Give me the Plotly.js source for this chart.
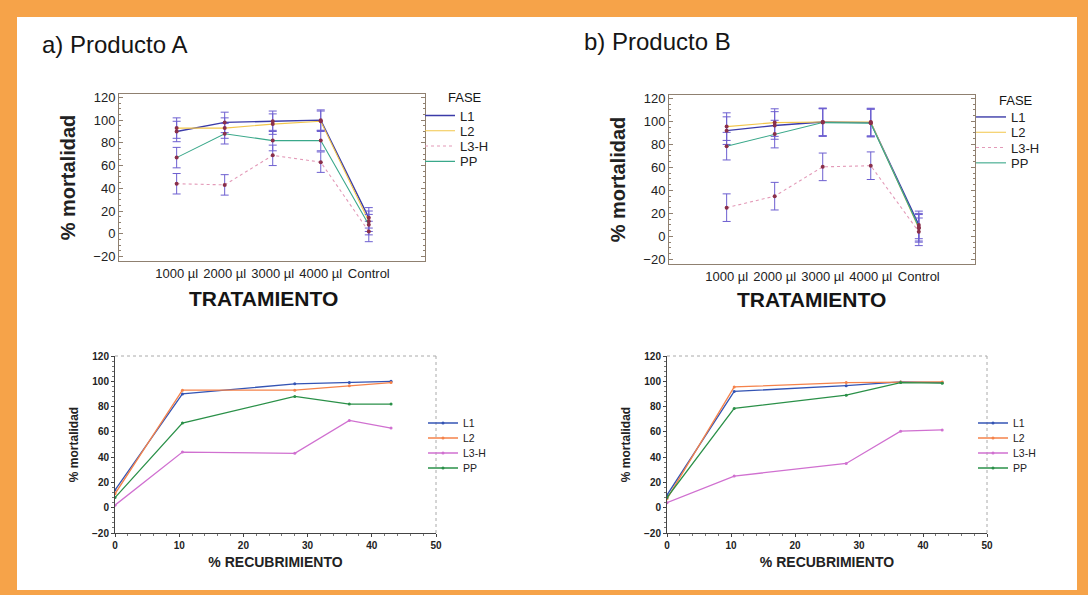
<!DOCTYPE html>
<html>
<head>
<meta charset="utf-8">
<script src="https://cdn.plot.ly/plotly-3.0.1.min.js"></script>
<style>
  html, body { margin:0; padding:0; }
  body { width:1088px; height:595px; background:#f6a349; position:relative; overflow:hidden; }
  #paper { position:absolute; left:17px; top:17px; width:1060px; height:573px; background:#ffffff; }
  #chart { position:absolute; left:0; top:0; width:1088px; height:595px; }
</style>
</head>
<body>
<div id="paper"></div>
<div id="chart"></div>
<script>
// ---------- data ----------
const treatments = ['1000 µl', '2000 µl', '3000 µl', '4000 µl', 'Control'];
const coverage   = [10.5, 28, 36.5, 43, 0];          // % recubrimiento per treatment
const phases     = ['L1', 'L2', 'L3-H', 'PP'];

// Producto A: % mortalidad per treatment
const prodA_L1  = [90, 98, 99, 100, 14];
const prodA_L2  = [93, 93, 96.5, 99, 11];
const prodA_L3H = [44, 43, 69, 63, 2];
const prodA_PP  = [67, 88, 82, 82, 8];
const prodA_err = 9;     // half-width of the interval bars

// Producto B: % mortalidad per treatment
const prodB_L1  = [92, 96.5, 99.5, 99, 10];
const prodB_L2  = [95.5, 99, 99.5, 99.5, 7];
const prodB_L3H = [25, 35, 60.5, 61.5, 4];
const prodB_PP  = [78.5, 89, 99, 98.5, 8];
const prodB_err = 12;

// ---------- styles ----------
const FONT = 'Arial, "Liberation Sans", sans-serif';
const topColors = ['#3b3ba8', '#f2c64a', '#e39ab8', '#3aa88a'];
const topDash   = ['solid', 'solid', 'dot', 'solid'];
const botColors = ['#3454b4', '#f5824a', '#d070d0', '#2a9048'];
const errColor  = '#6d5fd0';

const seriesA = [prodA_L1, prodA_L2, prodA_L3H, prodA_PP];
const seriesB = [prodB_L1, prodB_L2, prodB_L3H, prodB_PP];

const W = 1088, H = 595;
const px = v => v / W;
const py = v => 1 - v / H;

let legendCount = 0;
const layoutLegends = {};
function newLegend(textLeft, centerY, fontSize) {
  legendCount += 1;
  const name = legendCount === 1 ? 'legend' : 'legend' + legendCount;
  layoutLegends[name] = {
    visible: true,
    x: px(textLeft - 40), y: py(centerY), xanchor: 'left', yanchor: 'middle',
    bgcolor: 'rgba(0,0,0,0)', borderwidth: 0,
    font: {family: FONT, size: fontSize, color: '#222'},
    itemclick: false, itemdoubleclick: false
  };
  return name;
}

const traces = [];
function topPanel(series, err, xa, ya, legTextLeft, legY0) {
  series.forEach((vals, i) => {
    traces.push({
      type: 'scatter', mode: 'lines',
      x: treatments, y: vals, xaxis: xa, yaxis: ya,
      name: phases[i], showlegend: true,
      line: {color: topColors[i], width: i === 0 ? 1.4 : 1.1, dash: topDash[i]},
      error_y: {type: 'constant', value: err, color: errColor, thickness: 1, width: 4},
      legend: newLegend(legTextLeft, legY0 + i * 15.3, 13)
    });
  });
  series.forEach((vals, i) => {
    traces.push({
      type: 'scatter', mode: 'markers',
      x: treatments, y: vals, xaxis: xa, yaxis: ya,
      name: phases[i], showlegend: false,
      marker: {color: '#8a2f4a', size: 4}
    });
  });
}
function bottomPanel(series, xa, ya, legTextLeft, legY0) {
  // order points by coverage (control = 0 first)
  const order = coverage.map((c, k) => k).sort((a, b) => coverage[a] - coverage[b]);
  series.forEach((vals, i) => {
    traces.push({
      type: 'scatter', mode: 'lines+markers',
      x: order.map(k => coverage[k]), y: order.map(k => vals[k]),
      xaxis: xa, yaxis: ya, name: phases[i], showlegend: true,
      line: {color: botColors[i], width: 1.3},
      marker: {color: botColors[i], size: 3},
      legend: newLegend(legTextLeft, legY0 + i * 15, 10.5)
    });
  });
}

topPanel(seriesA, prodA_err, 'x', 'y', 460, 115.5);
topPanel(seriesB, prodB_err, 'x2', 'y2', 1011, 117);
bottomPanel(seriesA, 'x3', 'y3', 463, 423);
bottomPanel(seriesB, 'x4', 'y4', 1013, 423);

const frameColor = '#8f8070';
function topX(domain, anchor) {
  return {
    domain: domain, anchor: anchor, type: 'category', range: [-1.2, 5.17],
    showline: true, mirror: true, linecolor: frameColor, linewidth: 1,
    ticks: '', showgrid: false, zeroline: false,
    tickfont: {family: FONT, size: 13, color: '#222'}
  };
}
function topY(domain, anchor) {
  return {
    domain: domain, anchor: anchor, range: [-24, 123], tick0: 0, dtick: 20,
    showline: true, mirror: 'allticks', linecolor: frameColor, linewidth: 1,
    ticks: 'inside', ticklen: 4, tickcolor: frameColor,
    minor: {ticks: 'inside', ticklen: 2, dtick: 5, tickcolor: frameColor},
    showgrid: false, zeroline: false,
    tickfont: {family: FONT, size: 13, color: '#222'},
    title: {text: '% mortalidad', font: {family: FONT, size: 20, color: '#222', weight: 'bold'}, standoff: 12}
  };
}
function botX(domain, anchor) {
  return {
    domain: domain, anchor: anchor, range: [0, 50], dtick: 10,
    showline: true, linecolor: '#444', linewidth: 1,
    ticks: 'outside', ticklen: 3, tickcolor: '#444',
    minor: {ticks: 'outside', ticklen: 2, dtick: 2, tickcolor: '#777'},
    showgrid: false, zeroline: false,
    tickfont: {family: FONT, size: 10, color: '#222', weight: 'bold'},
    title: {text: '% RECUBRIMIENTO', font: {family: FONT, size: 14, color: '#222', weight: 'bold'}, standoff: 7}
  };
}
function botY(domain, anchor) {
  return {
    domain: domain, anchor: anchor, range: [-20, 120], dtick: 20,
    showline: true, linecolor: '#444', linewidth: 1,
    ticks: 'outside', ticklen: 3, tickcolor: '#444',
    minor: {ticks: 'outside', ticklen: 2, dtick: 4, tickcolor: '#777'},
    showgrid: false, zeroline: false,
    tickfont: {family: FONT, size: 10, color: '#222', weight: 'bold'},
    title: {text: '% mortalidad', font: {family: FONT, size: 12, color: '#222', weight: 'bold'}, standoff: 10}
  };
}

function dottedFrame(xa, ya) {
  return [
    {type: 'line', xref: xa + ' domain', yref: ya + ' domain', x0: 0, x1: 1, y0: 1, y1: 1,
     line: {color: '#aaa', width: 1, dash: 'dot'}},
    {type: 'line', xref: xa + ' domain', yref: ya + ' domain', x0: 1, x1: 1, y0: 0, y1: 1,
     line: {color: '#aaa', width: 1, dash: 'dot'}}
  ];
}

function label(text, x, y, size, anchor, bold) {
  return {text: text, xref: 'paper', yref: 'paper', x: px(x), y: py(y), xanchor: anchor, yanchor: 'middle',
          showarrow: false, font: {family: FONT, size: size, color: '#151515', weight: bold ? 'bold' : 'normal'}};
}

const layout = Object.assign({
  width: W, height: H,
  margin: {l: 0, r: 0, t: 0, b: 0},
  showlegend: true,
  paper_bgcolor: 'rgba(0,0,0,0)', plot_bgcolor: '#ffffff',
  font: {family: FONT, color: '#222'},
  xaxis:  topX([px(119), px(425)], 'y'),
  yaxis:  topY([py(261), py(94)], 'x'),
  xaxis2: topX([px(669), px(975)], 'y2'),
  yaxis2: topY([py(264), py(95)], 'x2'),
  xaxis3: botX([px(115), px(436)], 'y3'),
  yaxis3: botY([py(533), py(356)], 'x3'),
  xaxis4: botX([px(667), px(987)], 'y4'),
  yaxis4: botY([py(533), py(356)], 'x4'),
  shapes: dottedFrame('x3', 'y3').concat(dottedFrame('x4', 'y4')),
  annotations: [
    label('a) Producto A', 40, 45, 24, 'left', false),
    label('b) Producto B', 582, 42, 24, 'left', false),
    label('TRATAMIENTO', 263, 298, 21, 'center', true),
    label('TRATAMIENTO', 811, 299, 21, 'center', true),
    label('FASE', 446, 98, 13, 'left', false),
    label('FASE', 997, 100, 13, 'left', false)
  ]
}, layoutLegends);

Plotly.newPlot('chart', traces, layout, {displayModeBar: false, staticPlot: true});
</script>
</body>
</html>
